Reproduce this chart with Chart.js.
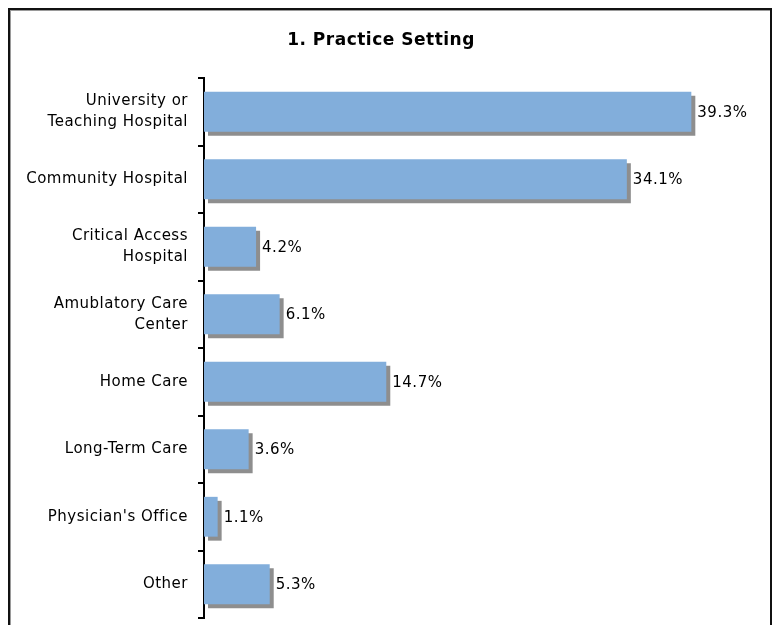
<!DOCTYPE html>
<html>
<head>
<meta charset="utf-8">
<script src="https://cdn.jsdelivr.net/npm/chart.js@4"></script>
<style>
  html, body { margin: 0; padding: 0; background: #fff; overflow: hidden; }
  #frame {
    position: absolute; left: 8px; top: 8px; width: 760px; height: 640px;
    border: 2px solid #111; box-shadow: inset 1px 1px 0 #9a9a9a;
  }
  #wrap { position: absolute; left: 0; top: 0; width: 773px; height: 625px; }
</style>
</head>
<body>
<div id="frame"></div>
<div id="wrap"><canvas id="chart" width="773" height="625"></canvas></div>
<script>
const categories = [
    ['University or', 'Teaching Hospital'],
    'Community Hospital',
    ['Critical Access', 'Hospital'],
    ['Amublatory Care', 'Center'],
    'Home Care',
    'Long-Term Care',
    "Physician's Office",
    'Other'
];
const shares = [39.3, 34.1, 4.2, 6.1, 14.7, 3.6, 1.1, 5.3];

const FONT = 'DejaVu Sans';

// gray drop shadow under the bars + value labels
const barShadow = {
    id: 'barShadow',
    beforeDraw(chart) {
        chart.ctx.letterSpacing = '0.5px';
    },
    beforeDatasetsDraw(chart) {
        const ctx = chart.ctx;
        ctx.save();
        ctx.shadowColor = '#8e8e8e';
        ctx.shadowOffsetX = 4;
        ctx.shadowOffsetY = 4;
        ctx.shadowBlur = 0;
    },
    afterDatasetsDraw(chart) {
        chart.ctx.restore();
        const ctx = chart.ctx;
        const meta = chart.getDatasetMeta(0);
        ctx.save();
        ctx.font = `15px "${FONT}"`;
        ctx.fillStyle = '#000';
        ctx.textAlign = 'left';
        ctx.textBaseline = 'middle';
        meta.data.forEach((bar, i) => {
            ctx.fillText(shares[i].toFixed(1) + '%', bar.x + 6, bar.y + 1);
        });
        ctx.restore();
    }
};

new Chart(document.getElementById('chart'), {
    type: 'bar',
    data: {
        labels: categories,
        datasets: [{
            data: shares,
            backgroundColor: '#82aedb',
            borderWidth: 0,
            barPercentage: 0.59,
            categoryPercentage: 1.0
        }]
    },
    options: {
        indexAxis: 'y',
        responsive: false,
        animation: false,
        layout: { padding: { left: 0, right: 11, top: 0, bottom: 7 } },
        scales: {
            x: { display: false, min: 0, max: 45 },
            y: {
                afterFit: (scale) => {
                    scale.width = 204;
                    scale.paddingTop = 0;
                    scale.paddingBottom = 0;
                },
                grid: {
                    drawOnChartArea: false,
                    tickLength: 6,
                    tickColor: '#000',
                    lineWidth: 2,
                    offset: true
                },
                border: { color: '#000', width: 2 },
                ticks: {
                    color: '#000',
                    padding: 10,
                    font: { family: FONT, size: 15, lineHeight: 1.4 }
                }
            }
        },
        plugins: {
            legend: { display: false },
            tooltip: { enabled: false },
            title: {
                display: true,
                text: '1. Practice Setting',
                color: '#000',
                font: { family: FONT, size: 17, weight: 'bold', lineHeight: 1.2 },
                padding: { top: 30, bottom: 27.6 }
            }
        }
    },
    plugins: [barShadow]
});
</script>
</body>
</html>
